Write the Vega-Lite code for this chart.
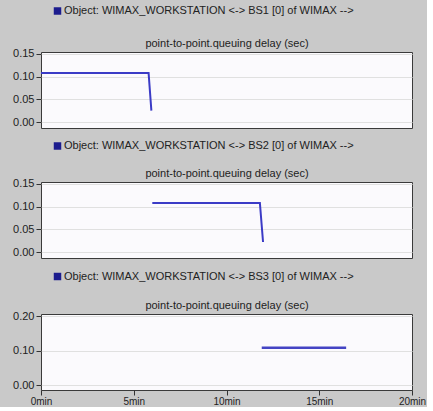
{
  "$schema": "https://vega.github.io/schema/vega-lite/v6.json",
  "background": "#c9c9c9",
  "padding": {"left": 12, "top": 5, "right": 0, "bottom": 0},
  "spacing": 11,
  "config": {
    "font": "Liberation Sans",
    "view": {"fill": "#fbfafd", "stroke": "#3a3a3a", "strokeWidth": 1},
    "axis": {"labelFontSize": 11, "labelColor": "#222222", "tickColor": "#333333", "tickSize": 5, "labelPadding": 2, "domain": false, "gridColor": "#e0e0e0", "titleFontSize": 11, "titleFontWeight": "normal", "titleColor": "#222222", "titlePadding": 4},
    "legend": {"orient": "none", "legendX": 11, "title": null, "symbolType": "square", "symbolSize": 56, "labelFontSize": 11, "labelColor": "#222222", "labelLimit": 400, "labelOffset": 1, "symbolStrokeWidth": 0}
  },
  "resolve": {"scale": {"color": "independent"}, "legend": {"color": "independent"}},
  "vconcat": [
    {
      "width": 371, "height": 76,
      "data": {"values": [
        {"t": 0, "delay": 0.108, "series": "Object: WIMAX_WORKSTATION <-> BS1 [0] of WIMAX -->"},
        {"t": 5.8, "delay": 0.108, "series": "Object: WIMAX_WORKSTATION <-> BS1 [0] of WIMAX -->"},
        {"t": 5.95, "delay": 0.025, "series": "Object: WIMAX_WORKSTATION <-> BS1 [0] of WIMAX -->"}
      ]},
      "mark": {"type": "line", "strokeWidth": 2},
      "encoding": {
        "x": {"field": "t", "type": "quantitative", "scale": {"domain": [0, 20], "nice": false}, "axis": {"orient": "top", "labels": false, "ticks": false, "grid": false, "title": "point-to-point.queuing delay (sec)"}},
        "y": {"field": "delay", "type": "quantitative", "scale": {"domain": [-0.0132, 0.1544], "nice": false, "zero": false}, "axis": {"values": [0, 0.05, 0.1, 0.15], "format": ".2f", "title": null}},
        "color": {"field": "series", "type": "nominal", "scale": {"range": ["#3b3bc6"]}, "legend": {"legendY": -46.5, "encode": {"symbols": {"update": {"fill": {"value": "#1c1c8e"}, "stroke": {"value": "#1c1c8e"}}}}}}
      }
    },
    {
      "width": 371, "height": 76,
      "data": {"values": [
        {"t": 6.0, "delay": 0.108, "series": "Object: WIMAX_WORKSTATION <-> BS2 [0] of WIMAX -->"},
        {"t": 11.8, "delay": 0.108, "series": "Object: WIMAX_WORKSTATION <-> BS2 [0] of WIMAX -->"},
        {"t": 11.97, "delay": 0.022, "series": "Object: WIMAX_WORKSTATION <-> BS2 [0] of WIMAX -->"}
      ]},
      "mark": {"type": "line", "strokeWidth": 2},
      "encoding": {
        "x": {"field": "t", "type": "quantitative", "scale": {"domain": [0, 20], "nice": false}, "axis": {"orient": "top", "labels": false, "ticks": false, "grid": false, "title": "point-to-point.queuing delay (sec)"}},
        "y": {"field": "delay", "type": "quantitative", "scale": {"domain": [-0.0132, 0.1544], "nice": false, "zero": false}, "axis": {"values": [0, 0.05, 0.1, 0.15], "format": ".2f", "title": null}},
        "color": {"field": "series", "type": "nominal", "scale": {"range": ["#3b3bc6"]}, "legend": {"legendY": -41.5, "encode": {"symbols": {"update": {"fill": {"value": "#1c1c8e"}, "stroke": {"value": "#1c1c8e"}}}}}}
      }
    },
    {
      "width": 371, "height": 76,
      "data": {"values": [
        {"t": 11.9, "delay": 0.108, "series": "Object: WIMAX_WORKSTATION <-> BS3 [0] of WIMAX -->"},
        {"t": 16.45, "delay": 0.108, "series": "Object: WIMAX_WORKSTATION <-> BS3 [0] of WIMAX -->"}
      ]},
      "encoding": {
        "y": {"field": "delay", "type": "quantitative", "scale": {"domain": [-0.0145, 0.206], "nice": false, "zero": false}, "axis": {"values": [0, 0.1, 0.2], "format": ".2f", "title": null}},
        "color": {"field": "series", "type": "nominal", "scale": {"range": ["#4444c4"]}, "legend": {"legendY": -43, "encode": {"symbols": {"update": {"fill": {"value": "#1c1c8e"}, "stroke": {"value": "#1c1c8e"}}}}}}
      },
      "resolve": {"axis": {"x": "independent"}},
      "layer": [
        {
          "mark": {"type": "line", "strokeWidth": 2.5},
          "encoding": {
            "x": {"field": "t", "type": "quantitative", "scale": {"domain": [0, 20], "nice": false}, "axis": {"orient": "bottom", "values": [0, 5, 10, 15, 20], "labelExpr": "datum.value + 'min'", "labelFontSize": 10, "labelFlush": false, "grid": false, "labelPadding": 1, "title": null}}
          }
        },
        {
          "mark": {"type": "line", "strokeWidth": 2.5, "opacity": 0},
          "encoding": {
            "x": {"field": "t", "type": "quantitative", "scale": {"domain": [0, 20], "nice": false}, "axis": {"orient": "top", "labels": false, "ticks": false, "grid": false, "title": "point-to-point.queuing delay (sec)"}}
          }
        }
      ]
    }
  ]
}
